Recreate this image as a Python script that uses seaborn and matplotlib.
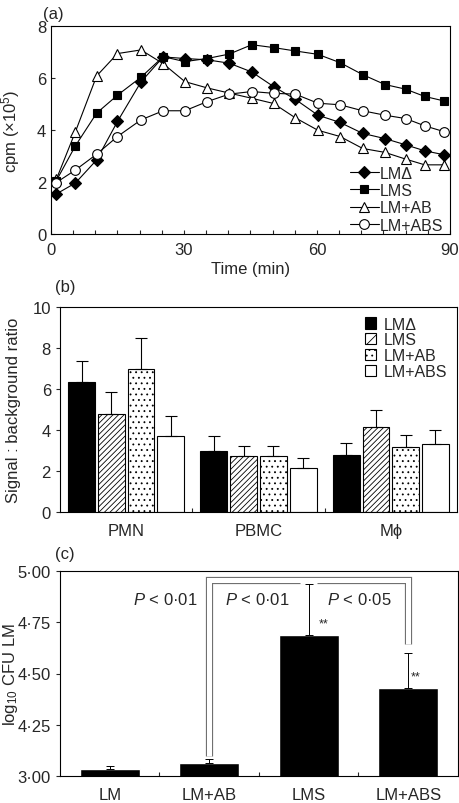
import numpy as np
import pandas as pd
import seaborn as sns
import matplotlib.pyplot as plt
from matplotlib.ticker import MultipleLocator, FixedLocator

sns.set_style("ticks")
plt.rcParams['font.family'] = ['Liberation Sans', 'DejaVu Sans']
plt.rcParams['mathtext.fontset'] = 'custom'
plt.rcParams['mathtext.rm'] = 'Liberation Sans'
plt.rcParams['mathtext.it'] = 'Liberation Sans:italic'
plt.rcParams['mathtext.default'] = 'regular'
plt.rcParams['hatch.linewidth'] = 0.6

FS = 12

# (a) chemiluminescence time course
time_min = [1.2, 5.5, 10.3, 15.0, 20.3, 25.3, 30.2, 35.2, 40.2, 45.3,
            50.2, 55.1, 60.2, 65.2, 70.3, 75.3, 80.0, 84.3, 88.6]
cpm_lmd = [1.54, 1.96, 2.85, 4.33, 5.85, 6.81, 6.75, 6.70, 6.57, 6.23,
           5.67, 5.18, 4.57, 4.29, 3.87, 3.67, 3.43, 3.20, 3.05]
cpm_lms = [2.05, 3.39, 4.65, 5.34, 6.03, 6.82, 6.63, 6.75, 6.92, 7.28,
           7.17, 7.04, 6.91, 6.59, 6.13, 5.75, 5.57, 5.29, 5.12]
cpm_ab = [2.10, 3.93, 6.08, 6.94, 7.08, 6.55, 5.86, 5.62, 5.42, 5.22,
          5.02, 4.47, 3.99, 3.75, 3.29, 3.14, 2.88, 2.66, 2.66]
cpm_abs = [1.98, 2.46, 3.07, 3.75, 4.39, 4.74, 4.74, 5.09, 5.38, 5.48,
           5.41, 5.38, 5.03, 4.97, 4.74, 4.57, 4.44, 4.16, 3.94]

# (b) signal : background ratio by cell type
cells = ['PMN', 'PBMC', 'Mϕ']
groups = ['LMΔ', 'LMS', 'LM+AB', 'LM+ABS']
ratio_lmd = [6.34, 2.98, 2.76]
ratio_lms = [4.76, 2.73, 4.15]
ratio_ab = [6.99, 2.72, 3.19]
ratio_abs = [3.71, 2.16, 3.33]
sem_lmd = [1.03, 0.71, 0.62]
sem_lms = [1.09, 0.49, 0.81]
sem_ab = [1.51, 0.48, 0.57]
sem_abs = [0.96, 0.49, 0.69]

# (c) log10 CFU (axis broken between 3.00 and 4.25)
strains = ['LM', 'LM+AB', 'LMS', 'LM+ABS']
log_cfu = [3.035, 3.065, 4.69, 4.43]
log_cfu_err = [0.014, 0.02, 0.245, 0.172]


def broken(v):
    # values below 4 are shown on the compressed lower segment
    return v + 1.0 if v < 4.0 else v


fig = plt.figure(figsize=(4.6, 8.04), dpi=100)
ax_a = fig.add_axes([51 / 460, 1 - 235 / 804, 399 / 460, 208 / 804])
ax_b = fig.add_axes([60 / 460, 1 - 513 / 804, 397 / 460, 205 / 804])
ax_c = fig.add_axes([60 / 460, 1 - 777 / 804, 398 / 460, 205 / 804])

for ax in (ax_a, ax_b, ax_c):
    for sp in ax.spines.values():
        sp.set_linewidth(0.8)
        sp.set_color('black')

# ---- panel (a)
series = [
    ('LM+AB', cpm_ab, '^', 'white', 7.2),
    ('LMΔ', cpm_lmd, 'D', 'black', 5.8),
    ('LMS', cpm_lms, 's', 'black', 6.4),
    ('LM+ABS', cpm_abs, 'o', 'white', 7.0),
]
for name, vals, mk, fc, ms in series:
    sns.lineplot(x=time_min, y=vals, ax=ax_a, color='black', lw=0.8,
                 marker=mk, markersize=ms, markerfacecolor=fc,
                 markeredgecolor='black', markeredgewidth=0.8, label=name)
h, l = ax_a.get_legend_handles_labels()
order = [l.index(n) for n in groups]
ax_a.legend([h[i] for i in order], [l[i] for i in order], loc='lower right',
            bbox_to_anchor=(1.0, -0.025), frameon=False, fontsize=11.5,
            handlelength=1.8, handletextpad=0.1, labelspacing=0.15,
            borderaxespad=0.0)
ax_a.set_xlim(0, 90)
ax_a.set_ylim(0, 8)
ax_a.xaxis.set_major_locator(FixedLocator([0, 30, 60, 90]))
ax_a.xaxis.set_minor_locator(MultipleLocator(5))
ax_a.yaxis.set_major_locator(MultipleLocator(2))
ax_a.tick_params(axis='x', which='both', direction='in', length=3, width=0.8,
                 labelsize=FS, pad=6)
ax_a.tick_params(axis='y', direction='in', length=3, width=0.8, labelsize=FS)
ax_a.set_xlabel('Time (min)', fontsize=FS)
ax_a.set_ylabel('cpm (×10$^5$)', fontsize=FS)
ax_a.xaxis.set_label_coords(0.5, -0.13)
ax_a.yaxis.set_label_coords(-0.072, 0.5)

# ---- panel (b)
ratios = [ratio_lmd, ratio_lms, ratio_ab, ratio_abs]
sems = [sem_lmd, sem_lms, sem_ab, sem_abs]
df_b = pd.DataFrame({
    'cell': [c for _ in groups for c in cells],
    'group': [g for g in groups for _ in cells],
    'ratio': [v for r in ratios for v in r],
})
sns.barplot(data=df_b, x='cell', y='ratio', hue='group', hue_order=groups,
            order=cells, palette=['black', 'white', 'white', 'white'],
            saturation=1, edgecolor='black', linewidth=0.8, width=0.9,
            gap=0.1, errorbar=None, ax=ax_b)
hatches = [None, '//////', '...', None]
for cont, hatch, err in zip(ax_b.containers, hatches, sems):
    xs, ys = [], []
    for p in cont.patches:
        if hatch:
            p.set_hatch(hatch)
        xs.append(p.get_x() + p.get_width() / 2)
        ys.append(p.get_height())
    ax_b.errorbar(xs, ys, yerr=[np.zeros(len(err)), err], fmt='none',
                  ecolor='black', elinewidth=0.8, capsize=4.2, capthick=0.8,
                  zorder=1)
ax_b.legend(handles=ax_b.containers[:], labels=groups, loc='upper right',
            frameon=False, fontsize=11.5, handlelength=0.7, handleheight=0.7,
            handletextpad=0.5, labelspacing=0.05, borderaxespad=0.2)
for p, hatch in zip(ax_b.get_legend().get_patches(), hatches):
    if hatch:
        p.set_hatch(hatch[:3])
ax_b.set_xlim(-0.5, 2.5)
ax_b.set_ylim(0, 10)
ax_b.yaxis.set_major_locator(MultipleLocator(2))
ax_b.xaxis.set_minor_locator(FixedLocator([0.5, 1.5]))
ax_b.tick_params(axis='x', which='major', length=0, labelsize=FS, pad=8)
ax_b.tick_params(axis='x', which='minor', direction='in', length=3, width=0.8)
ax_b.tick_params(axis='y', direction='out', length=3, width=0.8, labelsize=FS)
ax_b.set_xlabel('')
ax_b.set_ylabel('Signal : background ratio', fontsize=FS)
ax_b.yaxis.set_label_coords(-0.097, 0.5)

# ---- panel (c)
shown = [broken(v) for v in log_cfu]
sns.barplot(x=strains, y=shown, order=strains, color='black', saturation=1,
            width=0.6, errorbar=None, ax=ax_c)
ax_c.set_xlim(-0.5, 3.5)
ax_c.set_ylim(4.0, 5.0)

# significance brackets (double-stroke lines)
bx = [1.0, 1.0, 3.0, 3.0]
by = [4.098, 4.955, 4.955, 4.642]
ax_c.plot(bx, by, color='#707070', lw=5.2, solid_joinstyle='miter',
          solid_capstyle='butt', zorder=3)
ax_c.plot(bx, by, color='white', lw=3.6, solid_joinstyle='miter',
          solid_capstyle='butt', zorder=4)
ax_c.plot([1.91, 2.08], [4.9395, 4.9395], color='white', lw=1.8,
          solid_capstyle='butt', zorder=5)

xc = np.arange(len(strains))
ax_c.errorbar(xc, shown, yerr=[np.zeros(len(log_cfu_err)), log_cfu_err],
              fmt='none', ecolor='black', elinewidth=0.7, capsize=2.9,
              capthick=0.7, zorder=6)

ax_c.text(0.555, 4.865, '$\\mathit{P}$ < 0·01', ha='center', va='center',
          fontsize=FS)
ax_c.text(1.48, 4.865, '$\\mathit{P}$ < 0·01', ha='center', va='center',
          fontsize=FS)
ax_c.text(2.505, 4.865, '$\\mathit{P}$ < 0·05', ha='center', va='center',
          fontsize=FS)
ax_c.text(2.145, 4.745, '**', ha='center', va='center', fontsize=9)
ax_c.text(3.07, 4.485, '**', ha='center', va='center', fontsize=9)

ax_c.yaxis.set_major_locator(FixedLocator([4.0, 4.25, 4.5, 4.75, 5.0]))
ax_c.set_yticklabels(['3·00', '4·25', '4·50', '4·75', '5·00'])
ax_c.xaxis.set_minor_locator(FixedLocator([0.5, 1.5, 2.5]))
ax_c.tick_params(axis='x', which='major', length=0, labelsize=FS, pad=8)
ax_c.tick_params(axis='x', which='minor', direction='in', length=3, width=0.8)
ax_c.tick_params(axis='y', direction='out', length=3, width=0.8, labelsize=FS)
ax_c.set_ylabel('log$_{10}$ CFU LM', fontsize=FS)
ax_c.yaxis.set_label_coords(-0.1, 0.5)

fig.text(43 / 460, 1 - 14 / 804, '(a)', fontsize=FS, va='center')
fig.text(55 / 460, 1 - 288 / 804, '(b)', fontsize=FS, va='center')
fig.text(55 / 460, 1 - 555 / 804, '(c)', fontsize=FS, va='center')

fig.savefig('out.png', dpi=100)
